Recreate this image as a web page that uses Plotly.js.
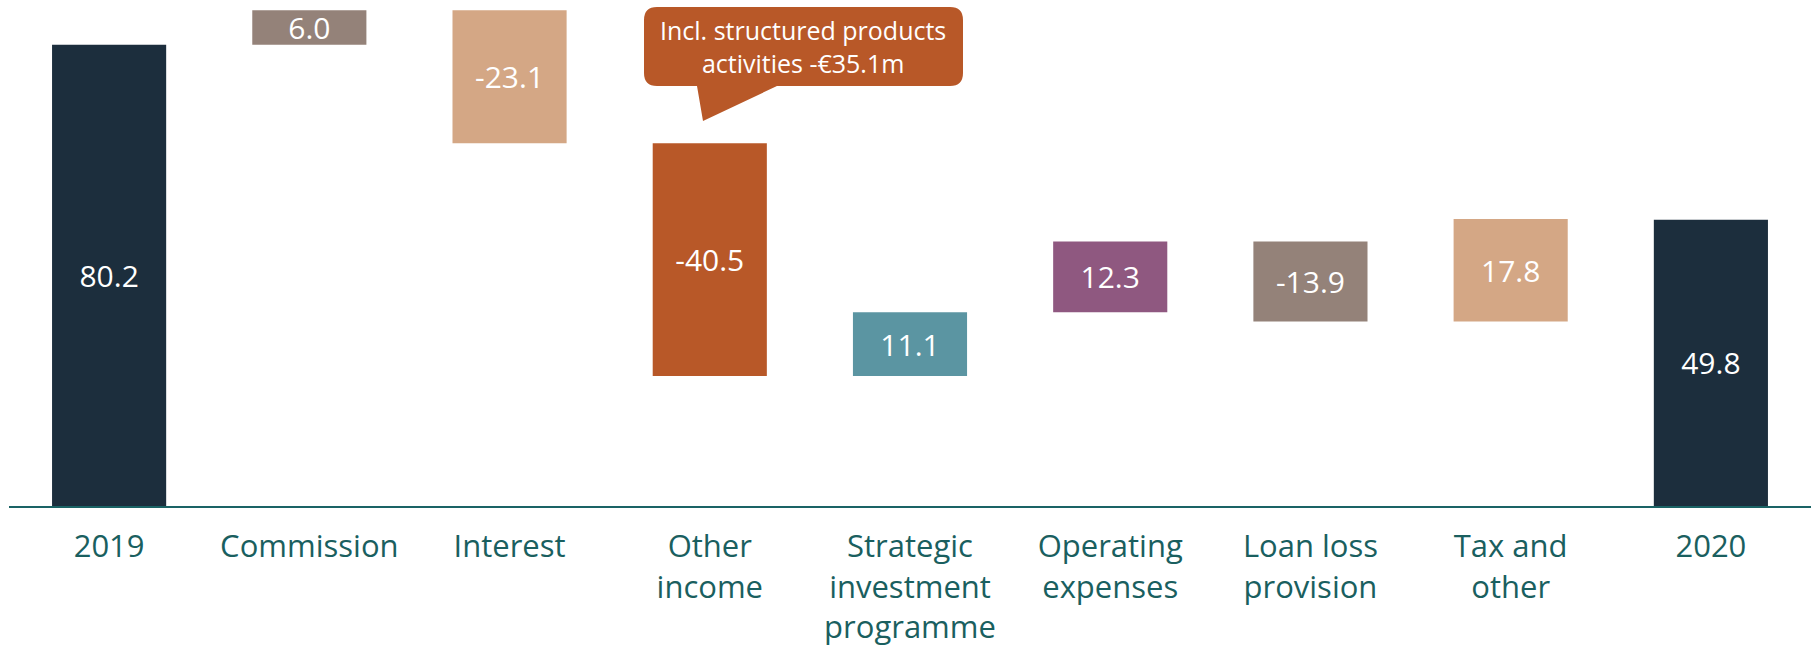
<!DOCTYPE html>
<html>
<head>
<meta charset="utf-8">
<script src="https://cdn.plot.ly/plotly-3.0.1.min.js"></script>
<style>html,body{margin:0;padding:0;background:#fff;}#chart{width:1813px;height:655px;}</style>
</head>
<body>
<div id="chart"></div>
<script>
const categories = ['2019', 'Commission', 'Interest', 'Other<br>income', 'Strategic<br>investment<br>programme', 'Operating<br>expenses', 'Loan loss<br>provision', 'Tax and<br>other', '2020'];
const values = [80.2, 6.0, -23.1, -40.5, 11.1, 12.3, -13.9, 17.8, 49.8];
const measures = ['total', 'relative', 'relative', 'relative', 'relative', 'relative', 'relative', 'relative', 'total'];
const valueLabels = ['80.2', '6.0', '-23.1', '-40.5', '11.1', '12.3', '-13.9', '17.8', '49.8'];
const barColors = ['#1c2e3d', '#948279', '#d4a785', '#b85828', '#5b95a2', '#8f5880', '#948279', '#d4a785', '#1c2e3d'];
const calloutText = 'Incl. structured products<br>activities -€35.1m';

// waterfall bases from running total
const bases = [];
let running = 0;
for (let i = 0; i < values.length; i++) {
  if (measures[i] === 'total') { bases.push(0); running = values[i]; }
  else { bases.push(running); running += values[i]; }
}

const W = 1813, H = 655;
const M = {l: 9, r: 2, t: 0, b: 149};
const plotW = W - M.l - M.r, plotH = H - M.t - M.b;
const px2x = p => (p - M.l) / plotW;
const px2y = p => (M.t + plotH - p) / plotH;

// callout box (pixel geometry)
const bx0 = 644, bx1 = 963, by0 = 7, by1 = 86, rr = 13;
const pts = [
  ['M', bx0 + rr, by0], ['L', bx1 - rr, by0], ['Q', bx1, by0, bx1, by0 + rr],
  ['L', bx1, by1 - rr], ['Q', bx1, by1, bx1 - rr, by1],
  ['L', 777, by1], ['L', 703, 121], ['L', 697, by1],
  ['L', bx0 + rr, by1], ['Q', bx0, by1, bx0, by1 - rr],
  ['L', bx0, by0 + rr], ['Q', bx0, by0, bx0 + rr, by0]
];
let path = '';
pts.forEach(p => {
  path += p[0];
  for (let k = 1; k < p.length; k += 2) {
    path += (k > 1 ? ' ' : '') + px2x(p[k]).toFixed(5) + ',' + px2y(p[k + 1]).toFixed(5);
  }
  path += ' ';
});
path += 'Z';

const trace = {
  type: 'bar',
  x: categories,
  y: values,
  base: bases,
  marker: {color: barColors, line: {width: 0}},
  text: valueLabels,
  texttemplate: '%{text}',
  textposition: 'inside',
  insidetextanchor: 'middle',
  constraintext: 'none',
  textangle: 0,
  insidetextfont: {family: 'Open Sans', size: 30, color: '#ffffff'},
  hoverinfo: 'none',
  width: 0.57
};

const layout = {
  width: W, height: H,
  margin: M,
  paper_bgcolor: '#ffffff',
  plot_bgcolor: '#ffffff',
  showlegend: false,
  xaxis: {
    type: 'category',
    showline: true, linecolor: '#1a6365', linewidth: 2,
    showgrid: false, zeroline: false,
    ticks: 'outside', ticklen: 12, tickcolor: 'rgba(0,0,0,0)',
    tickfont: {family: 'Open Sans', size: 31, color: '#1a5f5f'}
  },
  yaxis: {range: [0, 88], visible: false, showgrid: false, zeroline: false, fixedrange: true},
  shapes: [{
    type: 'path', xref: 'paper', yref: 'paper', path: path,
    fillcolor: '#b85828', line: {width: 0}, layer: 'above'
  }],
  annotations: [{
    xref: 'paper', yref: 'paper', x: px2x(803), y: px2y(46),
    xanchor: 'center', yanchor: 'middle', showarrow: false,
    text: calloutText, align: 'center',
    font: {family: 'Open Sans', size: 25, color: '#ffffff'}
  }]
};

Plotly.newPlot('chart', [trace], layout, {staticPlot: true, displayModeBar: false});
</script>
</body>
</html>
